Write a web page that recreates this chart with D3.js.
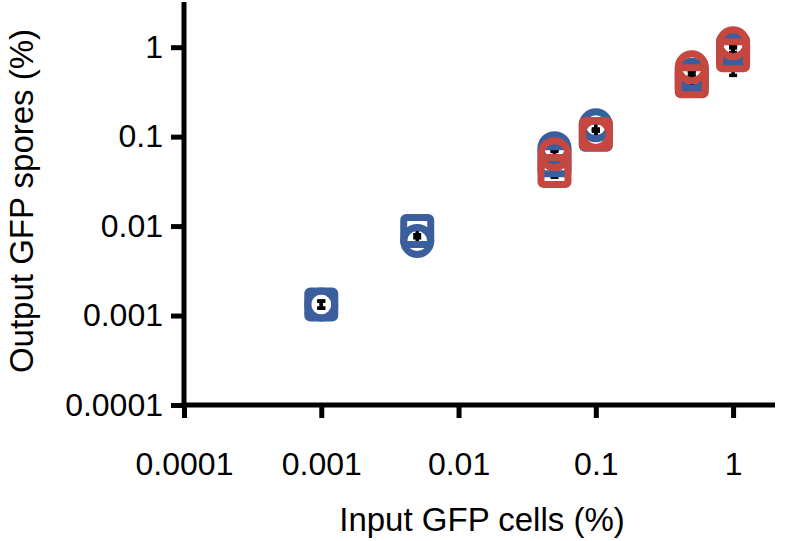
<!DOCTYPE html>
<html>
<head>
<meta charset="utf-8">
<script src="https://cdn.jsdelivr.net/npm/d3@7"></script>
<style>
  html, body { margin: 0; padding: 0; background: #fff; }
  svg { display: block; }
  text { font-family: "Liberation Sans", Arial, Helvetica, sans-serif; fill: #000; }
</style>
</head>
<body>
<svg id="chart" width="788" height="541"></svg>
<script>
// ---- data ----
const xTicks = [0.0001, 0.001, 0.01, 0.1, 1];
const yTicks = [0.0001, 0.001, 0.01, 0.1, 1];
const xTickLabels = ["0.0001", "0.001", "0.01", "0.1", "1"];
const yTickLabels = ["0.0001", "0.001", "0.01", "0.1", "1"];

const blueX = [0.001, 0.005, 0.05, 0.1, 0.5, 1];
const blueCircleY   = [0.00133, 0.0068, 0.0744, 0.134, 0.493, 0.95];
const blueCircleErr = [0.00012, 0.0006, 0.006, 0.012, 0.04, 0.08];
const blueSquareY   = [0.00133, 0.0088, 0.0546, 0.105, 0.45, 0.9];
const blueSquareErr = [0.00012, 0.0008, 0.005, 0.01, 0.04, 0.08];

const redX = [0.05, 0.1, 0.5, 1];
const redCircleY   = [0.0637, 0.107, 0.598, 1.108];
const redCircleErr = [0.006, 0.01, 0.05, 0.1];
const redSquareY   = [0.0412, 0.107, 0.417, 0.814];
const redSquareErr = [0.006, 0.012, 0.05, 0.33];

const BLUE = "#3A5F9C";
const RED = "#C5473F";

const series = [
  { x: blueX, y: blueCircleY, err: blueCircleErr, color: BLUE, shape: "circle" },
  { x: blueX, y: blueSquareY, err: blueSquareErr, color: BLUE, shape: "square" },
  { x: redX,  y: redCircleY,  err: redCircleErr,  color: RED,  shape: "circle" },
  { x: redX,  y: redSquareY,  err: redSquareErr,  color: RED,  shape: "square" }
];

// ---- layout ----
const svg = d3.select("#chart");
const x = d3.scaleLog().domain([0.0001, 2.02]).range([184, 775]);
const y = d3.scaleLog().domain([0.0001, 3.2]).range([405, 2]);

const AXW = 5, TICK = 13, FS = 32, TFS = 33;

// error bars (behind unfilled symbols)
const eb = svg.append("g");
series.forEach(s => {
  s.x.forEach((xv, i) => {
    const cx = x(xv);
    const lo = y(Math.max(s.y[i] - s.err[i], 1e-6));
    const hi = y(s.y[i] + s.err[i]);
    eb.append("line").attr("x1", cx).attr("x2", cx).attr("y1", lo).attr("y2", hi)
      .attr("stroke", "#000").attr("stroke-width", 3.5);
    [lo, hi].forEach(yy => eb.append("line").attr("x1", cx - 4).attr("x2", cx + 4)
      .attr("y1", yy).attr("y2", yy).attr("stroke", "#000").attr("stroke-width", 3.5));
  });
});

// symbols
const R = 13.5, SW = 7;
series.forEach(s => {
  const g = svg.append("g");
  s.x.forEach((xv, i) => {
    const cx = x(xv), cy = y(s.y[i]);
    if (s.shape === "circle") {
      g.append("circle").attr("cx", cx).attr("cy", cy).attr("r", R)
        .attr("fill", "none").attr("stroke", s.color).attr("stroke-width", SW);
    } else {
      g.append("rect").attr("x", cx - R).attr("y", cy - R).attr("width", 2 * R).attr("height", 2 * R)
        .attr("rx", 2.5).attr("fill", "none").attr("stroke", s.color).attr("stroke-width", SW);
    }
  });
});

// axes
const xAxis = d3.axisBottom(x).tickValues(xTicks).tickFormat((d, i) => xTickLabels[i])
  .tickSizeInner(TICK).tickSizeOuter(0).tickPadding(34);
const yAxis = d3.axisLeft(y).tickValues(yTicks).tickFormat((d, i) => yTickLabels[i])
  .tickSizeInner(TICK).tickSizeOuter(0).tickPadding(8);

const gx = svg.append("g").attr("transform", "translate(0,405)").call(xAxis);
const gy = svg.append("g").attr("transform", "translate(184,0)").call(yAxis);
[gx, gy].forEach(g => {
  g.select(".domain").attr("stroke", "#000").attr("stroke-width", AXW);
  g.selectAll(".tick line").attr("stroke", "#000").attr("stroke-width", AXW);
  g.selectAll(".tick text").attr("font-size", FS).attr("font-family", "'Liberation Sans', Arial, sans-serif").attr("fill", "#000");
});
gx.select(".domain").attr("d", `M${x(0.0001) - AXW / 2},0H${x.range()[1]}`);
gy.select(".domain").attr("d", `M0,${y.range()[0] + AXW / 2}V${y.range()[1]}`);

// axis titles
svg.append("text").attr("x", 482).attr("y", 531).attr("text-anchor", "middle")
  .attr("font-size", TFS).text("Input GFP cells (%)");
svg.append("text").attr("transform", "translate(33,201) rotate(-90)").attr("text-anchor", "middle")
  .attr("font-size", TFS).text("Output GFP spores (%)");
</script>
</body>
</html>
